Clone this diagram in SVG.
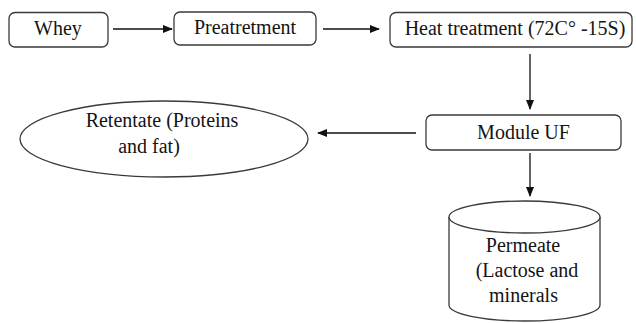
<svg xmlns="http://www.w3.org/2000/svg" width="636" height="323" viewBox="0 0 636 323">
<style>
.box{fill:#fff;stroke:#3a3a3a;stroke-width:1.3}
.t{font-family:'Liberation Serif','Tinos','DejaVu Serif','Noto Serif',serif;font-size:20px;fill:#141414;text-anchor:middle}
.c{stroke:#111;stroke-width:1.3;fill:none}
</style>
<defs>
<marker id="ah" markerWidth="10" markerHeight="8" refX="9" refY="4" orient="auto" markerUnits="userSpaceOnUse">
<path d="M0,0 L10,4 L0,8 Z" fill="#111"/>
</marker>
</defs>
<rect width="636" height="323" fill="#fff"/>
<g id="whey"><rect class="box" x="9" y="12.5" width="99" height="34.5" rx="6"/><text class="t" x="58" y="35">Whey</text></g>
<g id="pretreatment"><rect class="box" x="174" y="12" width="142" height="33" rx="6"/><text class="t" x="245" y="34">Preatretment</text></g>
<g id="heat"><rect class="box" x="390" y="12.5" width="242" height="34.5" rx="6"/><text class="t" x="515" y="35">Heat treatment (72C° -15S)</text></g>
<g id="moduleuf"><rect class="box" x="426" y="115" width="195" height="35" rx="6"/><text class="t" x="523.5" y="138.5">Module UF</text></g>
<g id="retentate"><ellipse class="box" cx="164" cy="139" rx="144" ry="38"/><text class="t" x="162" y="127">Retentate (Proteins</text><text class="t" x="149" y="153">and fat)</text></g>
<g id="permeate">
<path class="box" d="M449,217 L449,305 A75.5,16 0 0 0 600,305 L600,217"/>
<ellipse class="box" cx="524.5" cy="217" rx="75.5" ry="16"/>
<text class="t" x="523" y="252">Permeate</text><text class="t" x="527" y="277">(Lactose and</text><text class="t" x="523.5" y="302">minerals</text></g>
<g id="connectors">
<line class="c" x1="113" y1="29" x2="172" y2="29" marker-end="url(#ah)"/>
<line class="c" x1="323" y1="29" x2="379" y2="29" marker-end="url(#ah)"/>
<line class="c" x1="530" y1="54" x2="530" y2="109" marker-end="url(#ah)"/>
<line class="c" x1="416" y1="133" x2="318" y2="133" marker-end="url(#ah)"/>
<line class="c" x1="530" y1="153" x2="530" y2="196" marker-end="url(#ah)"/>
</g>
</svg>
